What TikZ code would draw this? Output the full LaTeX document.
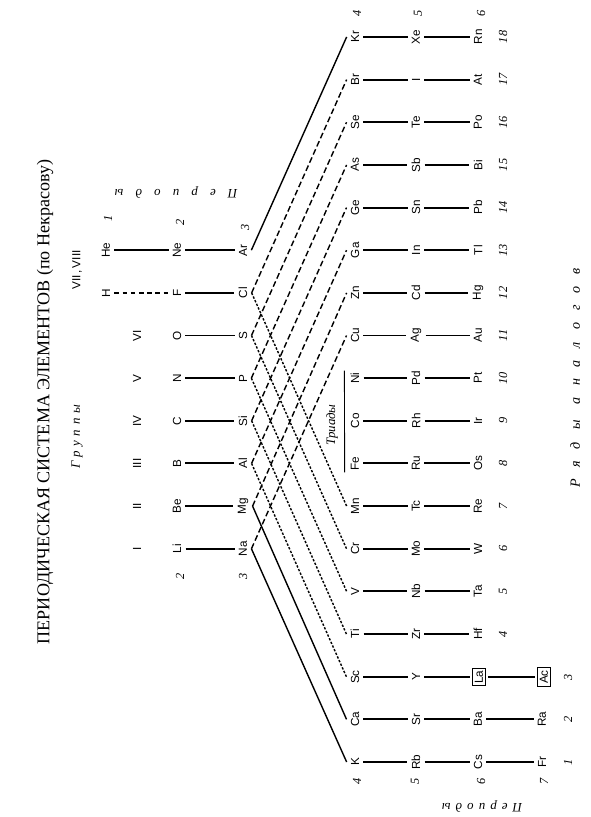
\documentclass[tikz,border=0pt]{standalone}
\usepackage{fontspec}
\setmainfont{Liberation Serif}
\newfontfamily\elfont{Liberation Sans}
\usetikzlibrary{positioning}

\tikzset{
  elem/.style={font=\elfont\fontsize{10}{12}\selectfont, rotate=90, inner sep=1.5pt},
  boxed/.style={elem, draw, line width=0.7pt, inner sep=2pt},
  numlabel/.style={font=\itshape\fontsize{10.5}{12}\selectfont, rotate=90, inner sep=1pt},
  caption/.style={font=\itshape\fontsize{11}{13}\selectfont, inner sep=1pt},
  bond/.style={line width=1.7pt, shorten <=2pt, shorten >=2pt},
  hbond/.style={bond, line width=1.2pt, dash pattern=on 4pt off 3pt},
  full/.style={line width=1.2pt},
  longdash/.style={line width=1.2pt, dash pattern=on 5pt off 2.6pt},
  finedash/.style={line width=1.2pt, dash pattern=on 2pt off 1.4pt},
}

\begin{document}
\begin{tikzpicture}[x=0.03cm, y=-0.03cm]
 \useasboundingbox (0,0) rectangle (590,817);

 \node[rotate=90, font=\fontsize{15.4}{18}\selectfont] (title) at (45,402)
   {ПЕРИОДИЧЕСКАЯ СИСТЕМА ЭЛЕМЕНТОВ (по Некрасову)};
 \node[caption, rotate=90] (groups) at (77,437) {\addfontfeature{LetterSpace=36}Группы};
 \node[caption, rotate=180] (periodstop) at (176,193) {\addfontfeature{LetterSpace=95}Периоды};
 \node[caption, rotate=180] (periodsbot) at (482,807) {\addfontfeature{LetterSpace=40}Периоды};
 \node[caption, rotate=90, font=\itshape\fontsize{12}{14}\selectfont] (analogs) at (575,378)
   {\addfontfeature{LetterSpace=85}Ряды аналогов};

 % short periods
 \foreach \g/\p/\q/\r in {6/Li/Na/I, 7/Be/Mg/II, 8/B/Al/III, 9/C/Si/IV, 10/N/P/V, 11/O/S/VI}{
  \node[elem] (grp\g) at (137,{762-(\g-1)*42.65}) {\r};
  \node[elem] (\p) at (177,{762-(\g-1)*42.65}) {\p};
  \node[elem] (\q) at (243,{762-(\g-1)*42.65}) {\q};
  \draw[bond] (\p) -- (\q);
 }
 \foreach \g/\p/\q in {12/F/Cl, 13/Ne/Ar}{
  \node[elem] (\p) at (177,{762-(\g-1)*42.65}) {\p};
  \node[elem] (\q) at (243,{762-(\g-1)*42.65}) {\q};
  \draw[bond] (\p) -- (\q);
 }
 \node[elem] (grp78) at (77,270) {VII\,,\,VIII};
 \node[elem] (H) at (106,{762-11*42.65}) {H};
 \node[elem] (He) at (106,{762-12*42.65}) {He};
 \draw[hbond] (H) -- (F);
 \draw[bond] (He) -- (Ne);

 % long periods
 \foreach \g/\a/\b/\c in {4/Ti/Zr/Hf, 5/V/Nb/Ta, 6/Cr/Mo/W, 7/Mn/Tc/Re, 8/Fe/Ru/Os,
   9/Co/Rh/Ir, 10/Ni/Pd/Pt, 11/Cu/Ag/Au, 12/Zn/Cd/Hg, 13/Ga/In/Tl, 14/Ge/Sn/Pb,
   15/As/Sb/Bi, 16/Se/Te/Po, 17/Br/I/At, 18/Kr/Xe/Rn}{
  \node[elem] (\a) at (355,{762-(\g-1)*42.65}) {\a};
  \node[elem] (\b) at (416,{762-(\g-1)*42.65}) {\b};
  \node[elem] (\c) at (478,{762-(\g-1)*42.65}) {\c};
  \node[numlabel] (row\g) at (503,{762-(\g-1)*42.65}) {\g};
  \draw[bond] (\a) -- (\b);
  \draw[bond] (\b) -- (\c);
 }
 \foreach \g/\a/\b/\c/\d in {1/K/Rb/Cs/Fr, 2/Ca/Sr/Ba/Ra}{
  \node[elem] (\a) at (355,{762-(\g-1)*42.65}) {\a};
  \node[elem] (\b) at (416,{762-(\g-1)*42.65}) {\b};
  \node[elem] (\c) at (478,{762-(\g-1)*42.65}) {\c};
  \node[elem] (\d) at (542,{762-(\g-1)*42.65}) {\d};
  \node[numlabel] (row\g) at (568,{762-(\g-1)*42.65}) {\g};
  \draw[bond] (\a) -- (\b);
  \draw[bond] (\b) -- (\c);
  \draw[bond] (\c) -- (\d);
 }
 \node[elem] (Sc) at (355,677) {Sc};
 \node[elem] (Y) at (416,677) {Y};
 \node[boxed] (La) at (479,677) {La};
 \node[boxed] (Ac) at (544,677) {Ac};
 \node[numlabel] (row3) at (568,677) {3};
 \draw[bond] (Sc) -- (Y);
 \draw[bond] (Y) -- (La);
 \draw[bond] (La) -- (Ac);

 % triads
 \draw[line width=0.8pt] ([xshift=-1.3mm]Fe.north west) -- ([xshift=-1.3mm]Ni.north east);
 \node[caption, rotate=90] (triads) at (332,425) {Триады};

 % period numbers
 \node[numlabel] (p1) at (108,218) {1};
 \node[numlabel] (p2) at (180,222) {2};
 \node[numlabel] (p3) at (245,227) {3};
 \node[numlabel] (p2b) at (180,576) {2};
 \node[numlabel] (p3b) at (243,576) {3};
 \foreach \n/\x in {4/357, 5/415, 6/481, 7/544}
  \node[numlabel] (pb\n) at (\x,781) {\n};
 \foreach \n/\x in {4/357, 5/418, 6/481}
  \node[numlabel] (pt\n) at (\x,13) {\n};

 % analogue links
 \foreach \s/\d in {Na/K, Mg/Ca, Ar/Kr}
  \draw[full] ([xshift=2pt]\s.south) -- ([xshift=-2pt]\d.north);
 \foreach \s/\d in {Na/Cu, Mg/Zn, Al/Ga, Si/Ge, P/As, S/Se, Cl/Br}
  \draw[longdash] ([xshift=2pt]\s.south) -- ([xshift=-2pt]\d.north);
 \foreach \s/\d in {Al/Sc, Si/Ti, P/V, S/Cr, Cl/Mn}
  \draw[finedash] ([xshift=2pt]\s.south) -- ([xshift=-2pt]\d.north);
\end{tikzpicture}
\end{document}
